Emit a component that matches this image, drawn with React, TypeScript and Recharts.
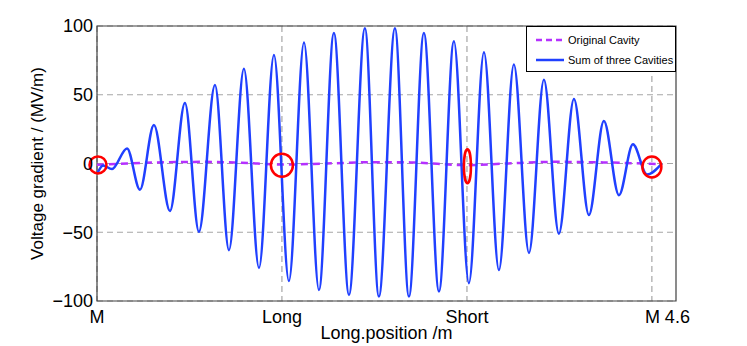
import React from 'react';
import {
  LineChart,
  Line,
  XAxis,
  YAxis,
  CartesianGrid,
  ReferenceArea,
  ReferenceDot,
} from 'recharts';

// x positions along the structure (m) and the field values (MV/m)
const sumX = [
  0.004, 0.05, 0.124, 0.249, 0.356, 0.472, 0.605, 0.729, 0.845, 0.978,
  1.094, 1.218, 1.343, 1.467, 1.591, 1.716, 1.84, 1.964, 2.089, 2.221,
  2.337, 2.47, 2.586, 2.71, 2.835, 2.959, 3.083, 3.208, 3.332, 3.456,
  3.581, 3.705, 3.829, 3.954, 4.078, 4.202, 4.327, 4.443, 4.559, 4.683,
];
const sumY = [
  -7, -1.5, -4, 11, -19, 28, -34.5, 44, -49.6, 57,
  -63, 69, -76, 79, -85.5, 88, -92, 95, -95.6, 98.3,
  -96.8, 98.3, -96.8, 95, -93, 89, -87, 81, -77.5, 72,
  -65, 61, -51, 47, -37.5, 31, -23, 14, -8, 0,
];

const origX = [0, 0.25, 0.6, 0.9, 1.2, 1.54, 1.9, 2.3, 2.6, 3.07, 3.4, 3.8, 4.2, 4.683];
const origY = [-1, 0, 1, 1.2, 0.5, -0.8, 0, 1, 0.8, -1.2, 0, 1.2, 0.8, -0.5];

const xTicks = [0, 1.533, 3.067, 4.6];
const xTickLabels = ['M', 'Long', 'Short', 'M 4.6'];
const yTicks = [-100, -50, 0, 50, 100];

// red annotation marks (centre in data units)
const markX = [0.008, 1.533, 3.071, 4.6];
const markY = [-1, -1.2, -2, -2.5];
const MARK_RADII = [
  [8.5, 8.5],
  [11, 11.5],
  [3.5, 17],
  [9.5, 10.5],
];

const sumData = sumX.map((x, i) => ({ x, v: sumY[i] }));
const origData = origX.map((x, i) => ({ x, v: origY[i] }));

const FONT = '"Liberation Sans", Arial, sans-serif';
const BLUE = '#2040ff';
const PURPLE = '#b530ff';

const XTick = (props: any) => {
  const { x, y, payload } = props;
  const idx = xTicks.indexOf(payload.value);
  const last = idx === xTicks.length - 1;
  return (
    <text
      x={last ? x - 7 : x}
      y={y}
      dy="0.71em"
      textAnchor={last ? 'start' : 'middle'}
      fill="#000"
      fontSize={18}
      fontFamily={FONT}
    >
      {xTickLabels[idx]}
    </text>
  );
};

const fmtY = (v: number) => (v < 0 ? `\u2212${Math.abs(v)}` : `${v}`);

const Legendbox = () => (
  <div
    style={{
      position: 'absolute',
      left: 526,
      top: 26,
      width: 150,
      height: 46,
      border: '1px solid #000',
      background: '#fff',
      fontFamily: FONT,
      fontSize: 11,
      boxSizing: 'border-box',
    }}
  >
    {[
      { name: 'Original Cavity', color: PURPLE, dash: '6 4' },
      { name: 'Sum of three Cavities', color: BLUE, dash: undefined },
    ].map((e, i) => (
      <div
        key={e.name}
        style={{ position: 'absolute', left: 8, top: 7 + i * 20, display: 'flex', alignItems: 'center', whiteSpace: 'nowrap' }}
      >
        <svg width={30} height={10}>
          <line x1={1} y1={5} x2={29} y2={5} stroke={e.color} strokeWidth={2.5} strokeDasharray={e.dash} />
        </svg>
        <span style={{ marginLeft: 3 }}>{e.name}</span>
      </div>
    ))}
  </div>
);

export default function App() {
  return (
    <div style={{ position: 'absolute', left: 0, top: 0, width: 747, height: 346, background: '#fff' }}>
      <LineChart width={747} height={346} margin={{ top: 26, right: 71, bottom: 0, left: 37 }}>
        <CartesianGrid
          stroke="#a6a6a6"
          strokeWidth={1.2}
          strokeDasharray="6 4"
          horizontalValues={yTicks}
          verticalValues={xTicks}
        />
        <XAxis
          type="number"
          dataKey="x"
          domain={[0, 4.8]}
          ticks={xTicks}
          interval={0}
          allowDataOverflow
          axisLine={false}
          tickLine={false}
          tickSize={0}
          tickMargin={9}
          height={45}
          tick={<XTick />}
          label={(p: any) => {
            const vb = p.viewBox || {};
            return (
              <text
                x={vb.x + vb.width / 2}
                y={vb.y + 38}
                textAnchor="middle"
                fontSize={18}
                fontFamily={FONT}
                fill="#000"
              >
                Long.position /m
              </text>
            );
          }}
        />
        <YAxis
          type="number"
          domain={[-100, 100]}
          ticks={yTicks}
          interval={0}
          allowDataOverflow
          axisLine={false}
          tickLine={false}
          tickSize={0}
          tickMargin={4}
          width={60}
          tickFormatter={fmtY}
          tick={{ fill: '#000', fontSize: 18, fontFamily: FONT }}
          label={(p: any) => {
            const vb = p.viewBox || {};
            const cx = vb.x;
            const cy = vb.y + vb.height / 2;
            return (
              <text
                x={cx}
                y={cy}
                transform={`rotate(-90 ${cx} ${cy})`}
                textAnchor="middle"
                dominantBaseline="central"
                fontSize={17}
                fontFamily={FONT}
                fill="#000"
              >
                Voltage gradient / (MV/m)
              </text>
            );
          }}
        />
        <ReferenceArea x1={0} x2={4.8} y1={-100} y2={100} fill="none" stroke="#404040" strokeWidth={1.2} fillOpacity={0} />
        <Line
          data={origData}
          dataKey="v"
          type="monotone"
          stroke={PURPLE}
          strokeWidth={2.5}
          strokeDasharray="7 5"
          dot={false}
          isAnimationActive={false}
        />
        <Line
          data={sumData}
          dataKey="v"
          type="monotone"
          stroke={BLUE}
          strokeWidth={2.5}
          dot={false}
          isAnimationActive={false}
        />
        {markX.map((mx, i) => (
          <ReferenceDot
            key={i}
            x={mx}
            y={markY[i]}
            r={MARK_RADII[i][0]}
            ifOverflow="visible"
            shape={(p: any) => (
              <ellipse
                cx={p.cx}
                cy={p.cy}
                rx={MARK_RADII[i][0]}
                ry={MARK_RADII[i][1]}
                fill="none"
                stroke="#ff0000"
                strokeWidth={2.5}
              />
            )}
          />
        ))}
      </LineChart>
      <Legendbox />
    </div>
  );
}
